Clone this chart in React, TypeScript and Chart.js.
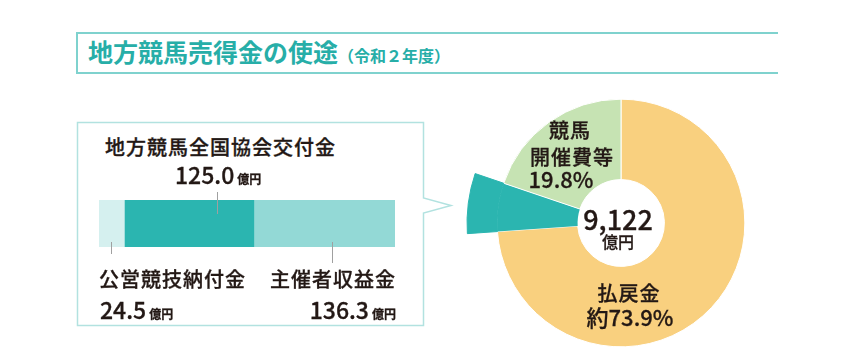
import React, { useEffect, useRef } from "react";
import { Chart, registerables } from "chart.js";

Chart.register(...registerables);

// ---- data ----
const titleMain = "地方競馬売得金の使途";
const titleSub = "（令和２年度）";

const pieLabels = ["払戻金", "地方競馬全国協会交付金等", "競馬開催費等"];
const pieValues = [73.9, 6.3, 19.8];
const pieColors = ["#f9d07f", "#2bb5b0", "#c6e3b3"];
const pieTotalText = "9,122";

const barLabels = ["公営競技納付金", "地方競馬全国協会交付金", "主催者収益金"];
const barValues = [24.5, 125.0, 136.3];
const barColors = ["#d5f0ef", "#2bb5b0", "#93d9d6"];
const unit = "億円";

const TEXT = "#231815";
const FONT = "'Noto Sans CJK JP', 'Noto Sans', sans-serif";

type LabelProps = {
  x: number;
  y: number;
  align?: "left" | "center" | "right";
  size: number;
  ls?: number;
  weight?: number;
  color?: string;
  children: React.ReactNode;
};

function Label({ x, y, align = "left", size, ls = 0, weight = 500, color = TEXT, children }: LabelProps) {
  const style: React.CSSProperties = {
    position: "absolute",
    top: y,
    fontSize: size,
    lineHeight: 1,
    letterSpacing: ls,
    fontWeight: weight,
    color,
    whiteSpace: "nowrap",
    fontFamily: FONT,
    WebkitTextStroke: "0.3px " + color,
  };
  if (align === "left") {
    style.left = x;
    style.transform = "translateY(-50%)";
  } else if (align === "right") {
    style.right = 850 - x;
    style.transform = "translateY(-50%)";
  } else {
    style.left = x;
    style.transform = "translate(-50%,-50%)";
  }
  return <div style={style}>{children}</div>;
}

function Num({ v, size = 23 }: { v: string; size?: number }) {
  return (
    <span style={{ fontSize: size }}>
      {v}
      <span style={{ fontSize: 12, marginLeft: 3, fontWeight: 700 }}>{unit}</span>
    </span>
  );
}

function VLine({ x, y1, y2 }: { x: number; y1: number; y2: number }) {
  return (
    <div
      style={{
        position: "absolute",
        left: x,
        top: y1,
        width: 1,
        height: y2 - y1,
        background: "#a0a0a0",
      }}
    />
  );
}

export default function App() {
  const pieRef = useRef<HTMLCanvasElement | null>(null);
  const barRef = useRef<HTMLCanvasElement | null>(null);

  useEffect(() => {
    const pie = new Chart(pieRef.current as HTMLCanvasElement, {
      type: "doughnut",
      data: {
        labels: pieLabels,
        datasets: [
          {
            data: pieValues,
            backgroundColor: ["rgba(0,0,0,0)", pieColors[1], "rgba(0,0,0,0)"],
            borderColor: ["rgba(0,0,0,0)", pieColors[1], "rgba(0,0,0,0)"],
            borderWidth: [0, 1, 0],
            weight: 30,
          } as any,
          {
            data: pieValues,
            backgroundColor: pieColors,
            borderColor: ["#ffffff", pieColors[1], "#ffffff"],
            borderWidth: [1, 0, 1],
            weight: 80,
          } as any,
        ],
      },
      options: {
        responsive: false,
        animation: false,
        events: [],
        radius: 154,
        cutout: "28.2%",
        layout: { padding: 0 },
        plugins: { legend: { display: false }, tooltip: { enabled: false }, title: { display: false } },
      } as any,
    });

    const total = barValues.reduce((a, b) => a + b, 0);
    const bar = new Chart(barRef.current as HTMLCanvasElement, {
      type: "bar",
      data: {
        labels: [""],
        datasets: barLabels.map((l, i) => ({
          label: l,
          data: [barValues[i]],
          backgroundColor: barColors[i],
          borderWidth: 0,
          barPercentage: 1,
          categoryPercentage: 1,
        })),
      },
      options: {
        indexAxis: "y",
        responsive: false,
        animation: false,
        events: [],
        layout: { padding: 0 },
        scales: {
          x: { display: false, stacked: true, min: 0, max: total },
          y: { display: false, stacked: true },
        },
        plugins: { legend: { display: false }, tooltip: { enabled: false } },
      } as any,
    });

    return () => {
      pie.destroy();
      bar.destroy();
    };
  }, []);

  return (
    <div
      style={{
        position: "fixed",
        left: 0,
        top: 0,
        width: 850,
        height: 362,
        background: "#ffffff",
        overflow: "hidden",
        fontFamily: FONT,
      }}
    >
      {/* title box */}
      <div
        style={{
          position: "absolute",
          left: 76,
          top: 32,
          width: 700,
          height: 38,
          borderTop: "2px solid #7fd2ce",
          borderBottom: "2px solid #7fd2ce",
          borderLeft: "2px solid #7fd2ce",
        }}
      />
      <div
        style={{
          position: "absolute",
          left: 88,
          top: 51,
          transform: "translateY(-50%)",
          whiteSpace: "nowrap",
          color: "#27aea8",
          fontWeight: 700,
          lineHeight: 1,
          fontFamily: FONT,
        }}
      >
        <span style={{ fontSize: 25 }}>{titleMain}</span>
        <span style={{ fontSize: 16 }}>{titleSub}</span>
      </div>

      {/* callout box */}
      <svg width={850} height={362} style={{ position: "absolute", left: 0, top: 0 }}>
        <path
          d="M77.5 122.5 H423.5 V198 L451 205.5 L423.5 213 V325.5 H77.5 Z"
          fill="none"
          stroke="#b2e2e0"
          strokeWidth={1.5}
        />
      </svg>

      <canvas
        ref={barRef}
        width={296}
        height={47}
        style={{ position: "absolute", left: 99, top: 200, width: 296, height: 47 }}
      />
      <canvas
        ref={pieRef}
        width={320}
        height={320}
        style={{ position: "absolute", left: 461, top: 63, width: 320, height: 320 }}
      />

      <VLine x={217} y1={192} y2={214} />
      <VLine x={111} y1={242} y2={254} />
      <VLine x={332} y1={242} y2={263} />

      <Label x={105} y={147} size={20} ls={1}>{barLabels[1]}</Label>
      <Label x={175} y={174} size={23}><Num v={barValues[1].toFixed(1)} /></Label>
      <Label x={99} y={279} size={20} ls={1}>{barLabels[0]}</Label>
      <Label x={100} y={309} size={23}><Num v={barValues[0].toFixed(1)} /></Label>
      <Label x={396} y={279} size={20} ls={1} align="right">{barLabels[2]}</Label>
      <Label x={396} y={309} size={23} align="right"><Num v={barValues[2].toFixed(1)} /></Label>

      <Label x={570} y={130} size={20} ls={1} align="center">競馬</Label>
      <Label x={572} y={157} size={20} ls={1} align="center">開催費等</Label>
      <Label x={561} y={178} size={22} align="center">{pieValues[2].toFixed(1)}%</Label>

      <Label x={618} y={218} size={27} align="center">{pieTotalText}</Label>
      <Label x={618} y={241} size={16} align="center">{unit}</Label>

      <Label x={629} y={293} size={20} ls={1} align="center">{pieLabels[0]}</Label>
      <Label x={630} y={316} size={22} align="center">約{pieValues[0].toFixed(1)}%</Label>
    </div>
  );
}
